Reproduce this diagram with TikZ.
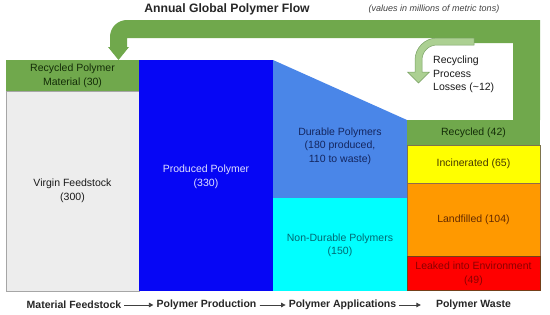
\documentclass[tikz,border=0pt]{standalone}
\usepackage{fontspec}
\setmainfont{Liberation Sans}
\usetikzlibrary{arrows.meta}
\definecolor{bandgreen}{RGB}{112,168,76}
\definecolor{lossgreen}{RGB}{172,208,146}
\definecolor{lossedge}{RGB}{120,160,100}
\definecolor{virgingray}{RGB}{237,237,237}
\definecolor{prodblue}{RGB}{6,6,245}
\definecolor{durblue}{RGB}{74,134,232}
\definecolor{ndcyan}{RGB}{0,255,255}
\definecolor{incyellow}{RGB}{255,255,0}
\definecolor{landorange}{RGB}{255,153,0}
\definecolor{leakred}{RGB}{255,0,0}
\definecolor{txtgreen}{RGB}{20,45,8}
\definecolor{txtnavy}{RGB}{20,38,95}
\definecolor{txtteal}{RGB}{0,105,115}
\definecolor{txtolive}{RGB}{70,56,0}
\definecolor{txtbrown}{RGB}{100,42,0}
\definecolor{txtred}{RGB}{140,0,0}
\definecolor{arrgray}{RGB}{64,64,64}
\tikzset{
  box/.style={rectangle, anchor=north west, inner sep=0pt, outer sep=0pt},
  lbl/.style={align=center, inner sep=0pt, font=\fontsize{10.5}{13.5}\selectfont},
  stagelbl/.style={inner sep=3pt, font=\fontsize{10.5}{12}\selectfont\bfseries},
  stagearrow/.style={draw=arrgray, line width=0.8pt, -{Triangle[length=4.5pt,width=4.5pt]}, fill=arrgray}
}
\begin{document}
\begin{tikzpicture}[x=1pt,y=-1pt]
\useasboundingbox (0,0) rectangle (550,314);
% title
\node[font=\fontsize{12.2}{14}\selectfont\bfseries, text=black!85] (title) at (227,9) {Annual Global Polymer Flow};
\node[font=\fontsize{9}{11}\selectfont\itshape, text=black!75] (note) at (434,9) {(values in millions of metric tons)};
% recycling band
\fill[bandgreen] (118.5,60) -- (129,47) -- (127,47) -- (127,38) -- (474,38) -- (474,43) -- (513,43) -- (513,120) -- (540,120) -- (540,20) -- (127,20) .. controls (117.6,20) and (110,27.4) .. (110,37) -- (110,47) -- (108,47) -- cycle;
% losses arrow
\filldraw[fill=lossgreen, draw=lossedge, line width=0.5pt] (474,38) -- (437,38) .. controls (424.9,38) and (415,47.9) .. (415,60) -- (415,72) -- (407.5,72) -- (418.5,83) -- (429.5,72) -- (422,72) -- (422,60) .. controls (422,51.7) and (428.7,45) .. (437,45) -- (474,45) -- cycle;
\node[anchor=north west, align=left, inner sep=0pt, font=\fontsize{10.5}{13.5}\selectfont, text=black!90] (losses) at (433,56) {Recycling\\Process\\Losses (\textasciitilde12)};
% column 1
\node[box, fill=bandgreen, minimum width=133pt, minimum height=31pt] (rec30) at (6,60) {};
\node[box, fill=virgingray, draw=black!35, line width=0.8pt, minimum width=133pt, minimum height=200pt] (virgin) at (6,91) {};
\node[lbl, text=txtgreen] (rec30t) at (72.5,76) {Recycled Polymer\\Material (30)};
\node[lbl, text=black!90] (virgint) at (72.5,191) {Virgin Feedstock\\(300)};
% column 2
\node[box, fill=prodblue, minimum width=134pt, minimum height=231pt] (prod) at (139,60) {};
\node[lbl, text=white!88!blue] (prodt) at (206,177) {Produced Polymer\\(330)};
% column 3
\coordinate (durNW) at (273,60);
\coordinate (durNE) at (407,120);
\fill[durblue] (durNW) -- (durNE) -- (407,198) -- (273,198) -- cycle;
\node[box, fill=ndcyan, minimum width=134pt, minimum height=93pt] (nondur) at (273,198) {};
\node[lbl, text=txtnavy] (durt) at (340,146) {Durable Polymers\\(180 produced,\\110 to waste)};
\node[lbl, text=txtteal] (nondurt) at (340,245.5) {Non-Durable Polymers\\(150)};
% column 4
\node[box, fill=bandgreen, minimum width=133pt, minimum height=25pt] (rec42) at (407,120) {};
\node[box, fill=incyellow, draw=txtolive!70, line width=0.6pt, minimum width=133pt, minimum height=38pt] (inc) at (407,145) {};
\node[box, fill=landorange, draw=txtbrown!70, line width=0.6pt, minimum width=133pt, minimum height=73pt] (land) at (407,183) {};
\node[box, fill=leakred, draw=txtbrown!90, line width=1pt, minimum width=133pt, minimum height=34pt] (leak) at (407,256) {};
\node[lbl, text=txtgreen] (rec42t) at (473.5,133) {Recycled (42)};
\node[lbl, text=txtolive] (inct) at (473.5,164) {Incinerated (65)};
\node[lbl, text=txtbrown] (landt) at (473.5,220) {Landfilled (104)};
\node[lbl, text=txtred] (leakt) at (473.5,274) {Leaked into Environment\\(49)};
% stage labels
\node[stagelbl, text=black!85] (s1) at (74,305) {Material Feedstock};
\node[stagelbl, text=black!85] (s2) at (206.5,305) {Polymer Production};
\node[stagelbl, text=black!85] (s3) at (342.5,305) {Polymer Applications};
\node[stagelbl, text=black!85] (s4) at (473.5,305) {Polymer Waste};
\draw[stagearrow] (s1) -- (s2);
\draw[stagearrow] (s2) -- (s3);
\draw[stagearrow] (s3.east) -- ([xshift=-12pt]s4.west);
\end{tikzpicture}
\end{document}
